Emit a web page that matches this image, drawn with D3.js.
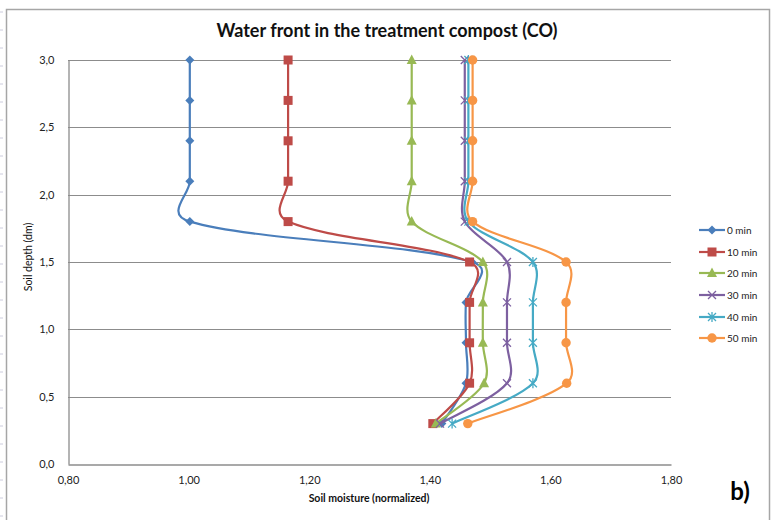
<!DOCTYPE html>
<html><head><meta charset="utf-8">
<script src="https://cdn.jsdelivr.net/npm/d3@7"></script>
<style>body{margin:0;background:#fff}svg{display:block}text{font-family:Lato,"Open Sans",sans-serif}</style>
</head><body><svg id="c" width="772" height="520"></svg>
<script>
const depths = [3.0, 2.7, 2.4, 2.1, 1.8, 1.5, 1.2, 0.9, 0.6, 0.3];
const seriesNames = ["0 min", "10 min", "20 min", "30 min", "40 min", "50 min"];
const s0  = [1.002, 1.002, 1.002, 1.002, 1.002, 1.47, 1.46, 1.46, 1.46, 1.42];
const s10 = [1.165, 1.165, 1.165, 1.165, 1.165, 1.466, 1.466, 1.466, 1.466, 1.405];
const s20 = [1.37, 1.37, 1.37, 1.37, 1.37, 1.488, 1.488, 1.488, 1.49, 1.41];
const s30 = [1.458, 1.458, 1.458, 1.458, 1.458, 1.528, 1.528, 1.528, 1.528, 1.417];
const s40 = [1.464, 1.464, 1.464, 1.464, 1.464, 1.571, 1.571, 1.571, 1.571, 1.437];
const s50 = [1.471, 1.471, 1.471, 1.471, 1.471, 1.626, 1.626, 1.626, 1.627, 1.463];
const xTicks = [0.8, 1.0, 1.2, 1.4, 1.6, 1.8];
const yTicks = [0, 0.5, 1.0, 1.5, 2.0, 2.5, 3.0];
const colors = ["#4a7ebb", "#be4b48", "#98b954", "#7d60a0", "#46aac5", "#f79646"];
const markerTypes = ["diamond", "square", "triangle", "x", "star", "circle"];
const allSeries = [s0, s10, s20, s30, s40, s50];

// Excel-like smoothed line curve for d3.line
function ExcelSmooth(context) { this._context = context; }
ExcelSmooth.prototype = {
  areaStart() { this._line = 0; }, areaEnd() { this._line = NaN; },
  lineStart() { this._p = []; },
  point(x, y) { this._p.push([+x, +y]); },
  lineEnd() {
    const p = this._p, n = p.length, c = this._context;
    if (!n) return;
    c.moveTo(p[0][0], p[0][1]);
    const dist = (a, b) => Math.hypot(b[0] - a[0], b[1] - a[1]);
    const ctrl = i => {
      const prev = p[Math.max(i - 1, 0)], next = p[Math.min(i + 1, n - 1)];
      const T = [next[0] - prev[0], next[1] - prev[1]];
      let wp = i > 0 ? Math.sqrt(dist(prev, p[i])) : 0;
      let wn = i < n - 1 ? Math.sqrt(dist(p[i], next)) : 0;
      let s = wp + wn;
      let fi, fo;
      if (i === 0 || i === n - 1) { fi = fo = 1 / 6; }
      else if (s === 0) { fi = fo = 0; }
      else { fi = wp / s / 3; fo = wn / s / 3; }
      return { in: [p[i][0] - T[0] * fi, p[i][1] - T[1] * fi], out: [p[i][0] + T[0] * fo, p[i][1] + T[1] * fo] };
    };
    const cs = p.map((_, i) => ctrl(i));
    for (let i = 0; i < n - 1; i++) {
      c.bezierCurveTo(cs[i].out[0], cs[i].out[1], cs[i + 1].in[0], cs[i + 1].in[1], p[i + 1][0], p[i + 1][1]);
    }
  }
};
const curveExcel = context => new ExcelSmooth(context);

const svg = d3.select("#c");
svg.append("rect").attr("x", 6.5).attr("y", 9.5).attr("width", 763).attr("height", 520)
  .attr("fill", "#fff").attr("stroke", "#a6a6a6").attr("stroke-width", 1.5);
for (let yy = 12; yy < 520; yy += 18) svg.append("line").attr("x1", 0).attr("x2", 3).attr("y1", yy).attr("y2", yy).attr("stroke", "#ccd").attr("stroke-width", 1);

const x = d3.scaleLinear().domain([0.8, 1.8]).range([68, 671]);
const y = d3.scaleLinear().domain([0, 3]).range([464, 60]);

svg.append("g").selectAll("line").data(yTicks.filter(d => d > 0)).join("line")
  .attr("x1", x(0.8)).attr("x2", x(1.8)).attr("y1", d => Math.round(y(d)) + 0.5).attr("y2", d => Math.round(y(d)) + 0.5)
  .attr("stroke", "#8c8c8c").attr("stroke-width", 1);

const fmtX = d => d3.format(".2f")(d).replace(".", ",");
const fmtY = d => d3.format(".1f")(d).replace(".", ",");
const gx = svg.append("g").attr("transform", `translate(0,${Math.round(y(0)) + 0.5})`)
  .call(d3.axisBottom(x).tickValues(xTicks).tickFormat(fmtX).tickSize(0).tickPadding(12));
const gy = svg.append("g").attr("transform", `translate(${Math.round(x(0.8)) + 0.5},0)`)
  .call(d3.axisLeft(y).tickValues(yTicks).tickFormat(fmtY).tickSize(0).tickPadding(14));
[gx, gy].forEach(g => {
  g.select(".domain").attr("stroke", "#8c8c8c").attr("stroke-width", 1.3);
  g.selectAll("text").attr("font-size", 11).attr("fill", "#222").attr("font-family", "Lato, sans-serif");
});

svg.append("text").attr("x", 387).attr("y", 37).attr("text-anchor", "middle")
  .attr("font-size", 18).attr("font-weight", "bold").attr("fill", "#111").text("Water front in the treatment compost (CO)");
svg.append("text").attr("x", 369).attr("y", 502).attr("text-anchor", "middle")
  .attr("font-size", 10.5).attr("font-weight", "bold").attr("fill", "#111").text("Soil moisture (normalized)");
svg.append("text").attr("transform", "translate(32,257) rotate(-90)").attr("text-anchor", "middle")
  .attr("font-size", 10.5).attr("fill", "#111").text("Soil depth (dm)");
svg.append("text").attr("x", 740).attr("y", 500).attr("text-anchor", "middle")
  .attr("font-size", 24).attr("font-weight", "bold").attr("fill", "#000").text("b)");

function drawMarker(g, type, cx, cy, color) {
  if (type === "diamond") {
    g.append("path").attr("d", `M${cx},${cy-4.5}L${cx+4.5},${cy}L${cx},${cy+4.5}L${cx-4.5},${cy}Z`).attr("fill", color);
  } else if (type === "square") {
    g.append("rect").attr("x", cx - 4.5).attr("y", cy - 4.5).attr("width", 9).attr("height", 9).attr("fill", color);
  } else if (type === "triangle") {
    g.append("path").attr("d", `M${cx},${cy-5.5}L${cx+5},${cy+4}L${cx-5},${cy+4}Z`).attr("fill", color);
  } else if (type === "x") {
    g.append("path").attr("d", `M${cx-4},${cy-4}L${cx+4},${cy+4}M${cx-4},${cy+4}L${cx+4},${cy-4}`).attr("stroke", color).attr("stroke-width", 1.3).attr("fill", "none");
  } else if (type === "star") {
    g.append("path").attr("d", `M${cx-4},${cy-4}L${cx+4},${cy+4}M${cx-4},${cy+4}L${cx+4},${cy-4}M${cx},${cy-5}L${cx},${cy+5}`).attr("stroke", color).attr("stroke-width", 1.3).attr("fill", "none");
  } else {
    g.append("circle").attr("cx", cx).attr("cy", cy).attr("r", 4.7).attr("fill", color);
  }
}

const line = d3.line().x(d => x(d[0])).y(d => y(d[1])).curve(curveExcel);
allSeries.forEach((vals, i) => {
  const pts = vals.map((v, j) => [v, depths[j]]);
  const g = svg.append("g");
  g.append("path").attr("d", line(pts)).attr("fill", "none").attr("stroke", colors[i]).attr("stroke-width", 2.2);
  pts.forEach(p => drawMarker(g, markerTypes[i], x(p[0]), y(p[1]), colors[i]));
});

const legY = [230, 252, 273, 295, 317, 338];
seriesNames.forEach((n, i) => {
  const g = svg.append("g");
  g.append("line").attr("x1", 699).attr("x2", 725).attr("y1", legY[i]).attr("y2", legY[i]).attr("stroke", colors[i]).attr("stroke-width", 2.2);
  drawMarker(g, markerTypes[i], 712, legY[i], colors[i]);
  g.append("text").attr("x", 727).attr("y", legY[i] + 3.5).attr("font-size", 10).attr("fill", "#222").text(n);
});
</script></body></html>
